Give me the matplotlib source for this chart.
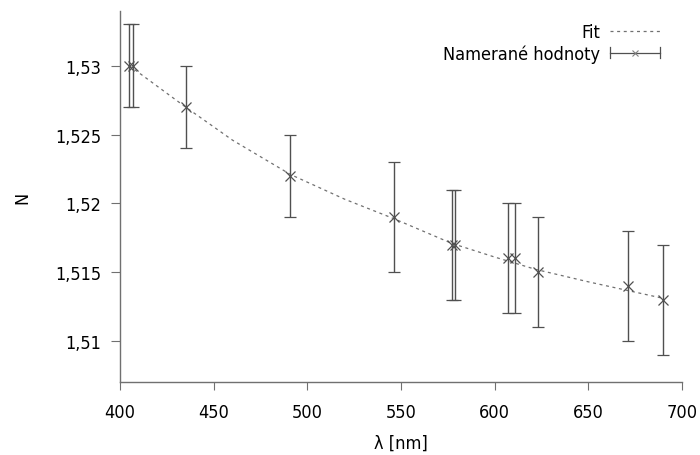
import numpy as np
import matplotlib
matplotlib.use("Agg")
import matplotlib.pyplot as plt
from matplotlib.lines import Line2D
from matplotlib.legend_handler import HandlerBase

# ---- data ----
wavelength = [405, 407, 435, 491, 546, 577, 579, 607, 611, 623, 671, 690]
n_measured = [1.530, 1.530, 1.527, 1.522, 1.519, 1.517, 1.517, 1.516, 1.516, 1.515, 1.514, 1.513]
n_error = [0.003, 0.003, 0.003, 0.003, 0.004, 0.004, 0.004, 0.004, 0.004, 0.004, 0.004, 0.004]

fit_lambda = [405, 420, 435, 460, 491, 520, 546, 577, 600, 622, 650, 670, 690]
fit_n = [1.5300, 1.5285, 1.5270, 1.5246, 1.5221, 1.5203, 1.5189, 1.5171, 1.5161, 1.5152, 1.5143, 1.5137, 1.5131]

x_ticks = [400, 450, 500, 550, 600, 650, 700]
y_ticks = [1.51, 1.515, 1.52, 1.525, 1.53]
y_tick_labels = ["1,51", "1,515", "1,52", "1,525", "1,53"]

label_fit = "Fit"
label_meas = "Namerané hodnoty"
x_label = "λ [nm]"
y_label = "N"

# ---- style ----
plt.rcParams['font.family'] = ['DejaVu Sans']
plt.rcParams['font.stretch'] = 'condensed'
FS = 13
ERR_COLOR = '#505050'
FIT_COLOR = '#707070'
SPINE_COLOR = '#707070'

fig = plt.figure(figsize=(7.0, 4.56), dpi=100)
ax = fig.add_axes([120/700, 1 - 383.3/456, (682-120)/700, (383.3-11.7)/456])

ax.plot(fit_lambda, fit_n, color=FIT_COLOR, lw=0.9, linestyle=(0, (2.4, 2.9)), label=label_fit)
ax.errorbar(wavelength, n_measured, yerr=n_error, fmt='x', color=ERR_COLOR, ecolor=ERR_COLOR,
            elinewidth=1.0, capsize=4.6, capthick=1.0, markersize=6.5, markeredgewidth=0.9,
            label=label_meas)

ax.set_xlim(400, 700)
ax.set_ylim(1.507, 1.534)
ax.set_xticks(x_ticks)
ax.set_xticklabels([str(v) for v in x_ticks])
ax.set_yticks(y_ticks)
ax.set_yticklabels(y_tick_labels)

for s in ['top', 'right']:
    ax.spines[s].set_visible(False)
for s in ['left', 'bottom']:
    ax.spines[s].set_color(SPINE_COLOR)
    ax.spines[s].set_linewidth(1.0)

ax.tick_params(axis='x', direction='out', length=6, width=0.8, color=SPINE_COLOR,
               labelsize=FS, pad=9)
ax.tick_params(axis='y', direction='out', length=6.5, width=0.8, color=SPINE_COLOR,
               labelsize=FS, pad=7)

ax.set_xlabel(x_label, fontsize=FS, labelpad=9)
ax.set_ylabel(y_label, fontsize=FS, labelpad=17)


class ErrHandler(HandlerBase):
    def create_artists(self, legend, orig_handle, xdescent, ydescent, width, height,
                       fontsize, trans):
        y = height / 2 - ydescent
        x0 = -xdescent
        x1 = x0 + width
        h = 4.0
        line = Line2D([x0, x1], [y, y], color=ERR_COLOR, lw=0.9)
        caps = Line2D([x0, x0, np.nan, x1, x1], [y - h, y + h, np.nan, y - h, y + h],
                      color=ERR_COLOR, lw=0.9)
        mk = Line2D([(x0 + x1) / 2], [y], marker='x', color='#808080', markersize=5,
                    markeredgewidth=0.8, linestyle='none')
        for a in (line, caps, mk):
            a.set_transform(trans)
        return [line, caps, mk]


fit_handle = Line2D([], [], color=FIT_COLOR, lw=0.9, linestyle=(0, (2.4, 2.9)))
err_handle = Line2D([], [], color=ERR_COLOR)
leg = fig.legend([fit_handle, err_handle], [label_fit, label_meas],
                 handler_map={err_handle: ErrHandler()},
                 loc='upper right', bbox_to_anchor=(660/700, 1 - 24.5/456),
                 frameon=False, markerfirst=False, fontsize=FS,
                 handlelength=2.75, handletextpad=0.55, labelspacing=0.16,
                 borderpad=0, borderaxespad=0)

fig.savefig('out.png', dpi=100)
